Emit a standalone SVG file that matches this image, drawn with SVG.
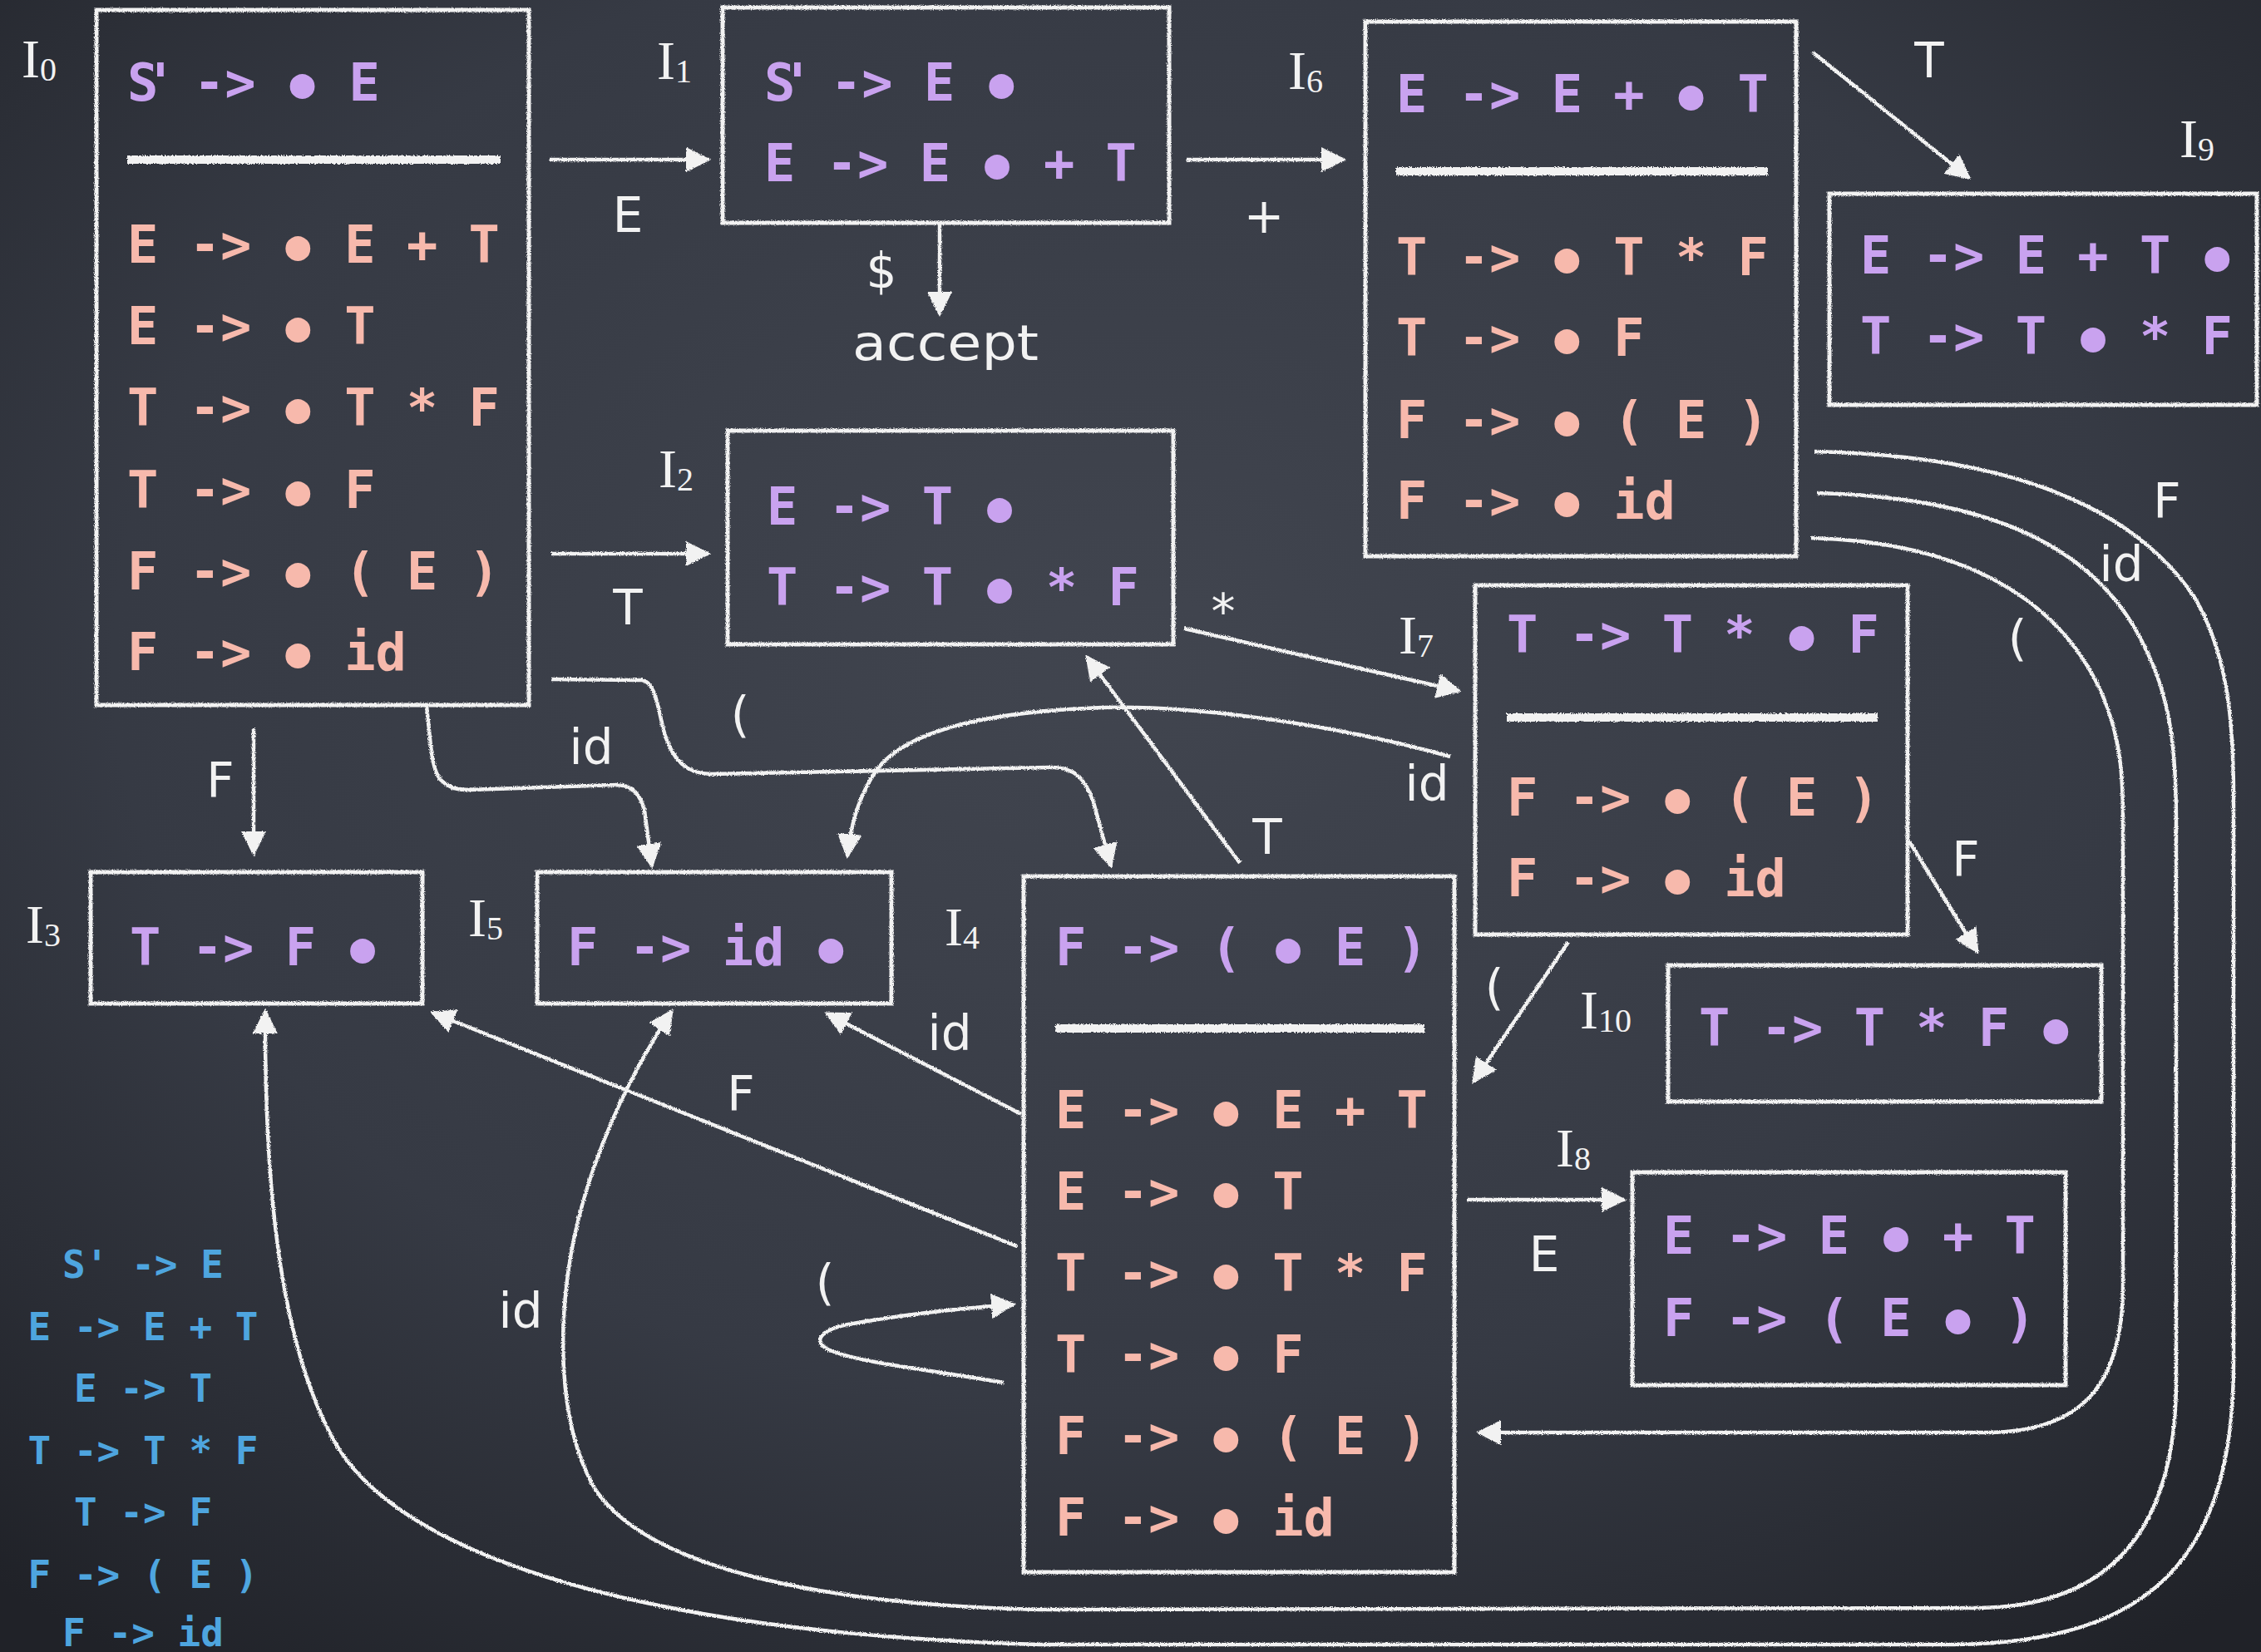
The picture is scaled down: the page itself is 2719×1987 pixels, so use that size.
<svg xmlns="http://www.w3.org/2000/svg" width="2719" height="1987" viewBox="0 0 2719 1987">
<defs>
  <radialGradient id="board" cx="50%" cy="40%" r="75%">
    <stop offset="0" stop-color="#41454f"/>
    <stop offset="0.6" stop-color="#363a44"/>
    <stop offset="1" stop-color="#202228"/>
  </radialGradient>
  <filter id="chalk" x="-5%" y="-5%" width="110%" height="110%">
    <feTurbulence type="fractalNoise" baseFrequency="0.9" numOctaves="1" seed="3" result="n"/>
    <feDisplacementMap in="SourceGraphic" in2="n" scale="4" xChannelSelector="R" yChannelSelector="G"/>
  </filter>
  <filter id="chalkline" x="-2%" y="-150%" width="104%" height="400%">
    <feTurbulence type="fractalNoise" baseFrequency="0.7" numOctaves="1" seed="5" result="n"/>
    <feDisplacementMap in="SourceGraphic" in2="n" scale="5" xChannelSelector="R" yChannelSelector="G"/>
  </filter>
  <marker id="ah" viewBox="0 0 10 10" refX="9" refY="5" markerWidth="30" markerHeight="30" markerUnits="userSpaceOnUse" orient="auto">
    <path d="M0,0 L10,5 L0,10 z" fill="#f2f2f2"/>
  </marker>
  <style>
    .box{fill:none;stroke:#f2f2f2;stroke-width:5}
    .sep{fill:#f2f2f2}
    .conn{fill:none;stroke:#f2f2f2;stroke-width:4.5}
    .arr{marker-end:url(#ah)}
    .it{font-family:"DejaVu Sans Mono","Liberation Mono",monospace;font-size:62px;font-weight:bold}
    .d{font-size:50px;letter-spacing:3.6px;baseline-shift:4px}
    .k{fill:#c9a2ef}
    .p{fill:#f7b9ac}
    .g{font-family:"DejaVu Sans Mono","Liberation Mono",monospace;font-size:46px;font-weight:bold;fill:#4ea5df;text-anchor:middle}
    .lbl{font-family:"Liberation Serif",serif;font-size:66px;fill:#f2f2f2}
    .sub{font-size:40px}
    .el{font-family:"DejaVu Sans","Liberation Sans",sans-serif;font-size:58px;fill:#f2f2f2;text-anchor:middle}
  </style>
</defs>
<rect x="0" y="0" width="2719" height="1987" fill="url(#board)"/>

<g id="I0">
  <rect class="box" x="116" y="12" width="520" height="836" filter="url(#chalk)"/>
  <text class="lbl" x="26" y="93">I<tspan class="sub" dy="4">0</tspan></text>
  <text class="it k" x="153" y="121"><tspan letter-spacing="-16">S'</tspan> -&gt; <tspan class="d" dx="3.6">●</tspan> E</text>
  <rect class="sep" x="153" y="187" width="449" height="10" filter="url(#chalkline)"/>
  <text class="it p" x="153" y="316">E -&gt; <tspan class="d" dx="3.6">●</tspan> E + T</text>
  <text class="it p" x="153" y="414">E -&gt; <tspan class="d" dx="3.6">●</tspan> T</text>
  <text class="it p" x="153" y="512">T -&gt; <tspan class="d" dx="3.6">●</tspan> T * F</text>
  <text class="it p" x="153" y="611">T -&gt; <tspan class="d" dx="3.6">●</tspan> F</text>
  <text class="it p" x="153" y="709">F -&gt; <tspan class="d" dx="3.6">●</tspan> ( E )</text>
  <text class="it p" x="153" y="806">F -&gt; <tspan class="d" dx="3.6">●</tspan> id</text>
</g>

<g id="I1">
  <rect class="box" x="869" y="9" width="537" height="259" filter="url(#chalk)"/>
  <text class="lbl" x="790" y="95">I<tspan class="sub" dy="4">1</tspan></text>
  <text class="it k" x="919" y="121"><tspan letter-spacing="-16">S'</tspan> -&gt; E <tspan class="d" dx="3.6">●</tspan></text>
  <text class="it k" x="919" y="218">E -&gt; E <tspan class="d" dx="3.6">●</tspan> + T</text>
</g>

<g id="accept">
  <text class="el" x="1137" y="433" font-size="64" textLength="224" lengthAdjust="spacingAndGlyphs">accept</text>
</g>

<g id="I6">
  <rect class="box" x="1642" y="26" width="518" height="643" filter="url(#chalk)"/>
  <text class="lbl" x="1549" y="107">I<tspan class="sub" dy="4">6</tspan></text>
  <text class="it k" x="1679" y="135">E -&gt; E + <tspan class="d" dx="3.6">●</tspan> T</text>
  <rect class="sep" x="1679" y="201" width="447" height="10" filter="url(#chalkline)"/>
  <text class="it p" x="1679" y="331">T -&gt; <tspan class="d" dx="3.6">●</tspan> T * F</text>
  <text class="it p" x="1679" y="428">T -&gt; <tspan class="d" dx="3.6">●</tspan> F</text>
  <text class="it p" x="1679" y="527">F -&gt; <tspan class="d" dx="3.6">●</tspan> ( E )</text>
  <text class="it p" x="1679" y="624">F -&gt; <tspan class="d" dx="3.6">●</tspan> id</text>
</g>

<g id="I9">
  <rect class="box" x="2200" y="233" width="514" height="254" filter="url(#chalk)"/>
  <text class="lbl" x="2621" y="189">I<tspan class="sub" dy="4">9</tspan></text>
  <text class="it k" x="2237" y="329">E -&gt; E + T <tspan class="d" dx="3.6">●</tspan></text>
  <text class="it k" x="2237" y="426">T -&gt; T <tspan class="d" dx="3.6">●</tspan> * F</text>
</g>

<g id="I2">
  <rect class="box" x="875" y="518" width="536" height="257" filter="url(#chalk)"/>
  <text class="lbl" x="792" y="586">I<tspan class="sub" dy="4">2</tspan></text>
  <text class="it k" x="922" y="631">E -&gt; T <tspan class="d" dx="3.6">●</tspan></text>
  <text class="it k" x="922" y="728">T -&gt; T <tspan class="d" dx="3.6">●</tspan> * F</text>
</g>

<g id="I7">
  <rect class="box" x="1774" y="704" width="520" height="420" filter="url(#chalk)"/>
  <text class="lbl" x="1682" y="786">I<tspan class="sub" dy="4">7</tspan></text>
  <text class="it k" x="1812" y="785">T -&gt; T * <tspan class="d" dx="3.6">●</tspan> F</text>
  <rect class="sep" x="1812" y="858" width="446" height="10" filter="url(#chalkline)"/>
  <text class="it p" x="1812" y="981">F -&gt; <tspan class="d" dx="3.6">●</tspan> ( E )</text>
  <text class="it p" x="1812" y="1078">F -&gt; <tspan class="d" dx="3.6">●</tspan> id</text>
</g>

<g id="I3">
  <rect class="box" x="109" y="1049" width="399" height="158" filter="url(#chalk)"/>
  <text class="lbl" x="31" y="1134">I<tspan class="sub" dy="4">3</tspan></text>
  <text class="it k" x="156" y="1161">T -&gt; F <tspan class="d" dx="3.6">●</tspan></text>
</g>

<g id="I5">
  <rect class="box" x="646" y="1049" width="426" height="158" filter="url(#chalk)"/>
  <text class="lbl" x="563" y="1126">I<tspan class="sub" dy="4">5</tspan></text>
  <text class="it k" x="682" y="1161">F -&gt; id <tspan class="d" dx="3.6">●</tspan></text>
</g>

<g id="I4">
  <rect class="box" x="1231" y="1054" width="518" height="837" filter="url(#chalk)"/>
  <text class="lbl" x="1136" y="1137">I<tspan class="sub" dy="4">4</tspan></text>
  <text class="it k" x="1269" y="1161">F -&gt; ( <tspan class="d" dx="3.6">●</tspan> E )</text>
  <rect class="sep" x="1269" y="1232" width="444" height="10" filter="url(#chalkline)"/>
  <text class="it p" x="1269" y="1357">E -&gt; <tspan class="d" dx="3.6">●</tspan> E + T</text>
  <text class="it p" x="1269" y="1455">E -&gt; <tspan class="d" dx="3.6">●</tspan> T</text>
  <text class="it p" x="1269" y="1553">T -&gt; <tspan class="d" dx="3.6">●</tspan> T * F</text>
  <text class="it p" x="1269" y="1651">T -&gt; <tspan class="d" dx="3.6">●</tspan> F</text>
  <text class="it p" x="1269" y="1749">F -&gt; <tspan class="d" dx="3.6">●</tspan> ( E )</text>
  <text class="it p" x="1269" y="1847">F -&gt; <tspan class="d" dx="3.6">●</tspan> id</text>
</g>

<g id="I10">
  <rect class="box" x="2006" y="1161" width="521" height="164" filter="url(#chalk)"/>
  <text class="lbl" x="1900" y="1237">I<tspan class="sub" dy="4">10</tspan></text>
  <text class="it k" x="2043" y="1258">T -&gt; T * F <tspan class="d" dx="3.6">●</tspan></text>
</g>

<g id="I8">
  <rect class="box" x="1963" y="1410" width="521" height="256" filter="url(#chalk)"/>
  <text class="lbl" x="1871" y="1403">I<tspan class="sub" dy="4">8</tspan></text>
  <text class="it k" x="2000" y="1508">E -&gt; E <tspan class="d" dx="3.6">●</tspan> + T</text>
  <text class="it k" x="2000" y="1607">F -&gt; ( E <tspan class="d" dx="3.6">●</tspan> )</text>
</g>

<g id="grammar">
  <text class="g" x="172" y="1537">S' -&gt; E</text>
  <text class="g" x="172" y="1612">E -&gt; E + T</text>
  <text class="g" x="172" y="1686">E -&gt; T</text>
  <text class="g" x="172" y="1761">T -&gt; T * F</text>
  <text class="g" x="172" y="1835">T -&gt; F</text>
  <text class="g" x="172" y="1910">F -&gt; ( E )</text>
  <text class="g" x="172" y="1980">F -&gt; id</text>
</g>

<g id="connectors">
  <g filter="url(#chalk)">
    <path class="conn arr" d="M661,192 L852,192"/>
    <path class="conn arr" d="M1130,269 L1130,378"/>
    <path class="conn arr" d="M1427,192 L1616,192"/>
    <path class="conn arr" d="M2180,63 L2368,214"/>
    <path class="conn arr" d="M663,666 L852,666"/>
    <path class="conn arr" d="M1424,756 L1755,831"/>
    <path class="conn arr" d="M305,876 L305,1027"/>
    <path class="conn arr" d="M513,850 C518,890 518,925 530,938 C540,948 550,950 565,950 L740,944 C760,944 770,955 775,975 L784,1042"/>
    <path class="conn arr" d="M663,817 L772,818 C790,820 792,860 800,885 C810,915 825,930 855,931 L1262,923 C1290,922 1305,935 1315,965 L1336,1042"/>
    <path class="conn arr" d="M1744,910 C1600,870 1420,845 1305,852 C1180,858 1090,880 1055,925 C1030,960 1022,1000 1019,1030"/>
    <path class="conn arr" d="M1491,1038 L1307,790"/>
    <path class="conn arr" d="M1886,1133 L1772,1301"/>
    <path class="conn arr" d="M2296,1012 L2378,1145"/>
    <path class="conn arr" d="M1228,1340 L994,1219"/>
    <path class="conn arr" d="M1223,1499 L520,1218"/>
    <path class="conn arr" d="M1207,1663 C1120,1648 1040,1640 1000,1625 C975,1615 985,1600 1020,1593 C1080,1582 1150,1574 1219,1569"/>
    <path class="conn arr" d="M1764,1443 L1953,1443"/>
    <path class="conn arr" d="M2182,543 C2400,548 2560,600 2640,720 C2680,790 2686,870 2686,960 L2686,1640 C2686,1870 2590,1976 2350,1978 L1250,1978 C800,1965 480,1880 400,1730 C335,1610 318,1420 319,1216"/>
    <path class="conn arr" d="M2185,593 C2380,598 2520,650 2580,780 C2610,840 2617,900 2617,990 L2617,1660 C2617,1860 2520,1932 2380,1934 L1250,1936 C1000,1930 780,1890 715,1790 C675,1720 672,1620 682,1540 C695,1430 745,1310 808,1216"/>
    <path class="conn arr" d="M2178,647 C2360,652 2480,720 2530,840 C2550,890 2553,930 2553,990 L2553,1545 C2553,1670 2500,1722 2390,1723 L1778,1723"/>
  </g>
  <text class="el" x="755" y="279">E</text>
  <text class="el" x="755" y="751">T</text>
  <text class="el" x="1060" y="346">$</text>
  <text class="el" x="1520" y="280" font-size="50">+</text>
  <text class="el" x="2320" y="93">T</text>
  <text class="el" x="1471" y="756" font-size="54">*</text>
  <text class="el" x="265" y="959">F</text>
  <text class="el" x="711" y="919">id</text>
  <text class="el" x="890" y="880">(</text>
  <text class="el" x="1524" y="1027">T</text>
  <text class="el" x="1716" y="963">id</text>
  <text class="el" x="1797" y="1208">(</text>
  <text class="el" x="2364" y="1054">F</text>
  <text class="el" x="1142" y="1263">id</text>
  <text class="el" x="891" y="1336">F</text>
  <text class="el" x="626" y="1597">id</text>
  <text class="el" x="992" y="1563">(</text>
  <text class="el" x="1857" y="1529">E</text>
  <text class="el" x="2606" y="623">F</text>
  <text class="el" x="2551" y="699">id</text>
  <text class="el" x="2426" y="788">(</text>
</g>
</svg>
